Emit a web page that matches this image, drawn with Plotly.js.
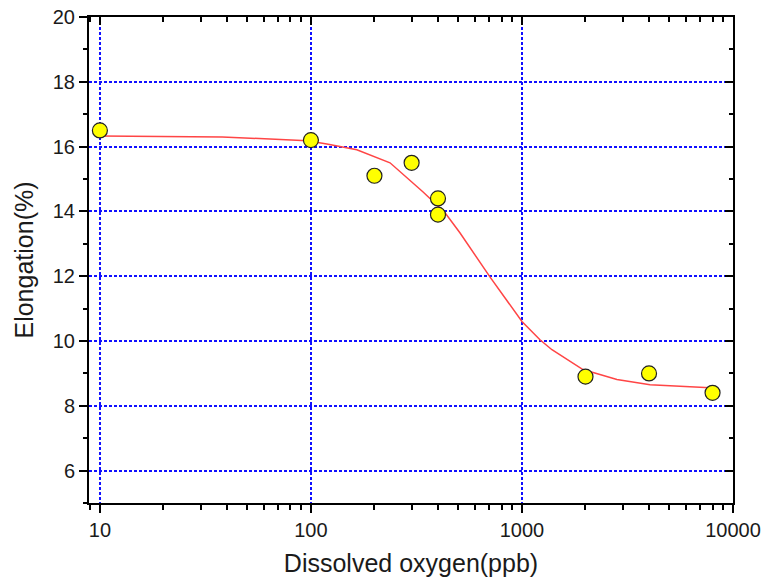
<!DOCTYPE html>
<html>
<head>
<meta charset="utf-8">
<script src="https://cdn.plot.ly/plotly-3.0.1.min.js"></script>
<style>html,body{margin:0;padding:0;background:#fff;}#chart{width:770px;height:581px;}</style>
</head>
<body>
<div id="chart"></div>
<script>
// Measured points
const oxygenPpb = [10, 100, 200, 300, 400, 400, 2000, 4000, 8000];
const elongationPct = [16.5, 16.2, 15.1, 15.5, 14.4, 13.9, 8.9, 9.0, 8.4];

// Fitted curve
const fitOxygen = [10, 38, 96, 119, 165, 237, 340, 432, 508, 705, 1000, 1217, 1387, 1945, 2818, 4045, 7780];
const fitElongation = [16.33, 16.30, 16.18, 16.08, 15.90, 15.50, 14.60, 13.96, 13.34, 11.98, 10.60, 10.04, 9.73, 9.12, 8.81, 8.65, 8.56];

// Tick labels
const xTickVals = [10, 100, 1000, 10000];
const xTickText = ["10", "100", "1000", "10000"];
const yTickVals = [6, 8, 10, 12, 14, 16, 18, 20];
const yTickText = ["6", "8", "10", "12", "14", "16", "18", "20"];

const FONT = "Liberation Sans, Arial, sans-serif";
const xRange = [Math.log10(8.88), 4];
const yRange = [5, 20];

const traces = [
  {
    x: fitOxygen, y: fitElongation, type: "scatter", mode: "lines",
    line: {color: "#ff4545", width: 1.5}, hoverinfo: "skip", showlegend: false
  },
  {
    x: oxygenPpb, y: elongationPct, type: "scatter", mode: "markers",
    marker: {size: 15, color: "#ffff00", line: {color: "#222", width: 1.2}},
    showlegend: false
  },
  // dummy trace to activate mirror axes
  {x: [10], y: [10], xaxis: "x2", yaxis: "y2", mode: "markers",
   marker: {opacity: 0}, hoverinfo: "skip", showlegend: false}
];

const gridStyle = {showgrid: true, gridcolor: "#1010ff", gridwidth: 2, griddash: "3px,2px"};

const layout = {
  width: 770, height: 581,
  margin: {l: 89, r: 37, t: 17, b: 78},
  paper_bgcolor: "#fff", plot_bgcolor: "#fff",
  font: {family: FONT, color: "#1a1a1a", size: 20},
  xaxis: Object.assign({
    type: "log", range: xRange,
    tickmode: "array", tickvals: xTickVals, ticktext: xTickText,
    ticks: "outside", ticklen: 8, tickwidth: 2, tickcolor: "#000",
    showline: true, linecolor: "#000", linewidth: 2,
    zeroline: false,
    minor: {dtick: "D1", ticks: "outside", ticklen: 5, tickwidth: 2, tickcolor: "#000", showgrid: false},
    tickfont: {size: 20, family: FONT, color: "#1a1a1a"},
    title: {text: "Dissolved oxygen(ppb)", font: {size: 25, family: FONT, color: "#1a1a1a"}, standoff: 14}
  }, gridStyle),
  yaxis: Object.assign({
    range: yRange,
    tickmode: "array", tickvals: yTickVals, ticktext: yTickText,
    ticks: "outside", ticklen: 8, tickwidth: 2, tickcolor: "#000",
    showline: true, linecolor: "#000", linewidth: 2,
    zeroline: false,
    minor: {dtick: 1, tick0: 0, ticks: "outside", ticklen: 4, tickwidth: 2, tickcolor: "#000", showgrid: false},
    tickfont: {size: 20, family: FONT, color: "#1a1a1a"},
    title: {text: "Elongation(%)", font: {size: 25, family: FONT, color: "#1a1a1a"}, standoff: 12}
  }, gridStyle),
  xaxis2: {
    type: "log", range: xRange, overlaying: "x", side: "top",
    tickmode: "array", tickvals: xTickVals, ticks: "inside", ticklen: 8, tickwidth: 2, tickcolor: "#000",
    showticklabels: false, showgrid: false, zeroline: false,
    showline: true, linecolor: "#000", linewidth: 2,
    minor: {dtick: "D1", ticks: "inside", ticklen: 5, tickwidth: 2, tickcolor: "#000", showgrid: false}
  },
  yaxis2: {
    range: yRange, overlaying: "y", side: "right",
    tickmode: "array", tickvals: yTickVals, ticks: "inside", ticklen: 8, tickwidth: 2, tickcolor: "#000",
    showticklabels: false, showgrid: false, zeroline: false,
    showline: true, linecolor: "#000", linewidth: 2,
    minor: {dtick: 1, tick0: 0, ticks: "inside", ticklen: 4, tickwidth: 2, tickcolor: "#000", showgrid: false}
  }
};

Plotly.newPlot("chart", traces, layout, {displayModeBar: false, staticPlot: true});
</script>
</body>
</html>
